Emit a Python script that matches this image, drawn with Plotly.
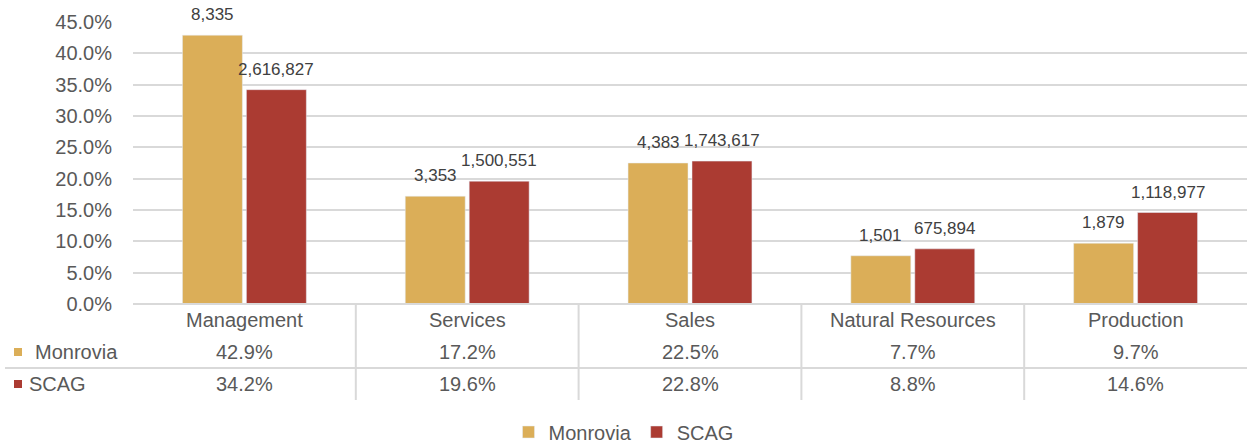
import plotly.graph_objects as go

categories = ["Management", "Services", "Sales", "Natural Resources", "Production"]
monrovia_pct = [42.9, 17.2, 22.5, 7.7, 9.7]
scag_pct = [34.2, 19.6, 22.8, 8.8, 14.6]
monrovia_count = [8335, 3353, 4383, 1501, 1879]
scag_count = [2616827, 1500551, 1743617, 675894, 1118977]
y_ticks = [0, 5, 10, 15, 20, 25, 30, 35, 40, 45]
series_names = ["Monrovia", "SCAG"]

W, H = 1247, 444
GOLD = "#DBAE58"
RED = "#AB3B32"
GRID = "#D9D9D9"
TXT = "#595959"
LBL = "#404040"
FONT = "Liberation Sans, Arial, sans-serif"
TS = 20  # table / axis text size


def px(x):
    return x / W


def py(y):
    return 1 - y / H


fig = go.Figure()
fig.add_trace(go.Bar(name=series_names[0], x=categories, y=monrovia_pct,
                     marker_color=GOLD, hoverinfo="skip"))
fig.add_trace(go.Bar(name=series_names[1], x=categories, y=scag_pct,
                     marker_color=RED, hoverinfo="skip"))

shapes = []
shapes.append(dict(type="line", xref="paper", yref="paper", x0=px(133), x1=1,
                   y0=py(304), y1=py(304), line=dict(color=GRID, width=2)))
shapes.append(dict(type="line", xref="paper", yref="paper", x0=px(5), x1=1,
                   y0=py(368), y1=py(368), line=dict(color=GRID, width=2)))
for i in range(len(categories) - 1):
    shapes.append(dict(type="line", xref="x", yref="paper", x0=i + 0.5, x1=i + 0.5,
                       y0=py(304), y1=py(400), line=dict(color=GRID, width=2)))
shapes.append(dict(type="rect", xref="paper", yref="paper", x0=px(14), x1=px(22),
                   y0=py(356), y1=py(348), fillcolor=GOLD, line=dict(width=0)))
shapes.append(dict(type="rect", xref="paper", yref="paper", x0=px(14), x1=px(22),
                   y0=py(388), y1=py(380), fillcolor=RED, line=dict(width=0)))

annotations = []
for i, c in enumerate(categories):
    # data labels above bars
    annotations.append(dict(x=c, xref="x", y=monrovia_pct[i], yref="y", xshift=-32, yshift=9,
                            xanchor="center", yanchor="bottom", text=f"{monrovia_count[i]:,}",
                            showarrow=False, font=dict(size=17, color=LBL, family=FONT)))
    annotations.append(dict(x=c, xref="x", y=scag_pct[i], yref="y", xshift=32, yshift=9,
                            xanchor="center", yanchor="bottom", text=f"{scag_count[i]:,}",
                            showarrow=False, font=dict(size=17, color=LBL, family=FONT)))
    # table
    annotations.append(dict(x=c, xref="x", y=py(320), yref="paper", text=c,
                            xanchor="center", yanchor="middle",
                            showarrow=False, font=dict(size=TS, color=TXT, family=FONT)))
    annotations.append(dict(x=c, xref="x", y=py(352), yref="paper", text=f"{monrovia_pct[i]:.1f}%",
                            xanchor="center", yanchor="middle",
                            showarrow=False, font=dict(size=TS, color=TXT, family=FONT)))
    annotations.append(dict(x=c, xref="x", y=py(384), yref="paper", text=f"{scag_pct[i]:.1f}%",
                            xanchor="center", yanchor="middle",
                            showarrow=False, font=dict(size=TS, color=TXT, family=FONT)))
annotations.append(dict(x=px(33), xref="paper", y=py(352), yref="paper", text=series_names[0],
                        xanchor="left", yanchor="middle", showarrow=False,
                        font=dict(size=TS, color=TXT, family=FONT)))
annotations.append(dict(x=px(27), xref="paper", y=py(384), yref="paper", text=series_names[1],
                        xanchor="left", yanchor="middle", showarrow=False,
                        font=dict(size=TS, color=TXT, family=FONT)))

fig.update_layout(
    width=W, height=H, margin=dict(l=0, r=0, t=0, b=0, autoexpand=False),
    paper_bgcolor="white", plot_bgcolor="white",
    barmode="group", bargap=0.426, bargroupgap=0.0625,
    font=dict(family=FONT, color=TXT),
    xaxis=dict(domain=[px(133), 1], showticklabels=False, showgrid=False,
               zeroline=False, showline=False, fixedrange=True, automargin=False),
    yaxis=dict(domain=[py(304), py(22)], range=[0, 45], tickvals=y_ticks,
               ticktext=[f"{v:.1f}%" for v in y_ticks], showgrid=True,
               gridcolor=GRID, gridwidth=1.5, zeroline=False, showline=False,
               tickfont=dict(size=TS, color=TXT, family=FONT), ticklabelstandoff=20,
               automargin=False, fixedrange=True),
    legend=dict(orientation="h", x=0.5, xanchor="center", y=py(432), yanchor="middle",
                font=dict(size=TS, color=TXT, family=FONT), itemwidth=30,
                traceorder="normal"),
    shapes=shapes, annotations=annotations,
)

fig.write_html("out.html", config={"displayModeBar": False},
               post_script="document.body.style.margin='0';document.body.style.padding='0';")
